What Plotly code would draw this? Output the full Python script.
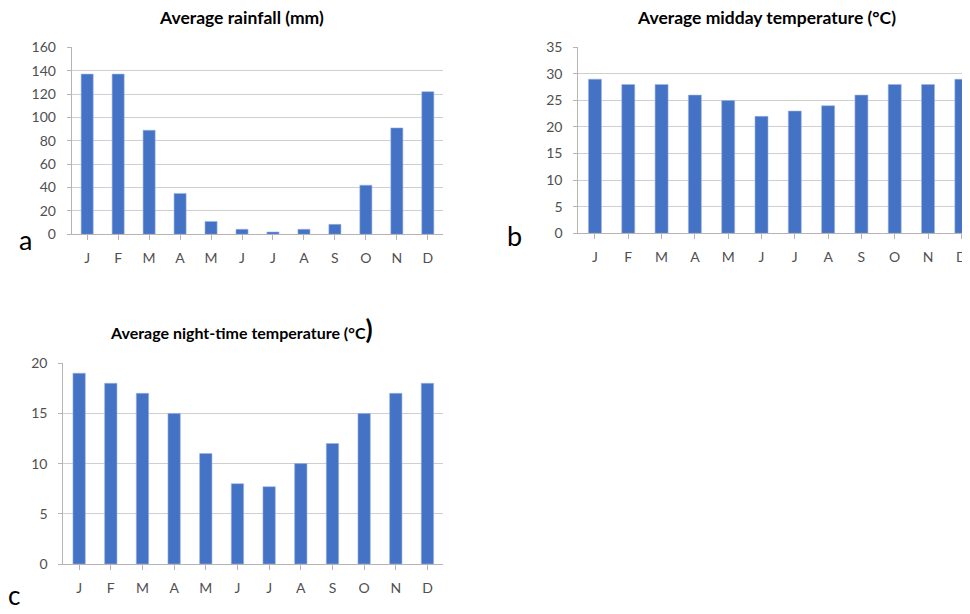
import plotly.graph_objects as go

months = ["J", "F", "M", "A", "M", "J", "J", "A", "S", "O", "N", "D"]
rainfall = [137, 137, 89, 35, 11, 4.3, 2, 4.3, 8.5, 42, 91, 122]
midday = [29, 28, 28, 26, 25, 22, 23, 24, 26, 28, 28, 29]
night = [19, 18, 17, 15, 11, 8, 7.7, 10, 12, 15, 17, 18]

W, H = 970, 614
OFF = 8  # page body margin offset
BAR = "#4472C4"
GRID = "#cfcfcf"
AXIS = "#b4b4b4"
TICKC = "#505050"
FONT = "Lato"

def fx(v):
    return (v - OFF) / W

def fy(v):
    return 1 - (v - OFF) / H

def px_x(a, b):
    return [max(fx(a), 0), min(fx(b), 1.0)]

def px_y(top, bottom):
    return [fy(bottom), fy(top)]

xs = list(range(12))

fig = go.Figure()
for vals, xa, ya in [(rainfall, "x", "y"), (midday, "x2", "y2"), (night, "x3", "y3")]:
    fig.add_trace(go.Bar(
        x=xs, y=vals, xaxis=xa, yaxis=ya, width=0.39,
        marker=dict(color=BAR, line=dict(color="#9db3e0", width=0.6)),
        showlegend=False, hoverinfo="y",
    ))

def xaxis(domain, anchor, rng):
    return dict(
        domain=domain, anchor=anchor, range=rng,
        tickmode="array", tickvals=xs, ticktext=months,
        showline=True, linecolor=AXIS, linewidth=1,
        ticks="outside", tickson="boundaries", ticklen=5, tickcolor=AXIS,
        showgrid=False, zeroline=False,
        tickfont=dict(family=FONT, size=14, color=TICKC),
        ticklabelstandoff=6, fixedrange=True, automargin=False,
    )

def yaxis(domain, anchor, rng, dtick):
    return dict(
        domain=domain, anchor=anchor, range=rng, dtick=dtick,
        showline=True, linecolor=AXIS, linewidth=1,
        ticks="outside", ticklen=4, tickcolor=AXIS,
        showgrid=True, gridcolor=GRID, gridwidth=1, zeroline=False,
        tickfont=dict(family=FONT, size=14, color=TICKC),
        ticklabelstandoff=8, fixedrange=True, automargin=False,
    )

fig.update_layout(
    width=W, height=H, margin=dict(l=0, r=0, t=0, b=0, autoexpand=False),
    paper_bgcolor="white", plot_bgcolor="white",
    bargap=0.6,
    xaxis=xaxis(px_x(71.7, 443.3), "y", [-0.5, 11.5]),
    yaxis=yaxis(px_y(47, 234.3), "x", [0, 160.2], 20),
    xaxis2=xaxis(px_x(578.3, 978.3), "y2", [-0.5, 11.5]),
    yaxis2=yaxis(px_y(47, 233.3), "x2", [0, 35.05], 5),
    xaxis3=xaxis(px_x(63.3, 443.3), "y3", [-0.5, 11.5]),
    yaxis3=yaxis(px_y(363, 564), "x3", [0, 20.02], 5),
)

titles = [
    ("Average rainfall (mm)", 241.5, 17, 17.5),
    ("Average midday temperature (°C)", 766, 17, 17.5),
    ("Average night-time temperature (°C<span style='font-size:26px'>)</span>", 241.5, 329, 16),
]
for t, cx, cy, fs in titles:
    fig.add_annotation(text=f"<b>{t}</b>", xref="paper", yref="paper",
                       x=fx(cx), y=fy(cy), showarrow=False,
                       xanchor="center", yanchor="middle",
                       font=dict(family=FONT, size=fs, color="#000000"))

for lab, lx, ly in [("a", 25, 240), ("b", 514, 236)]:
    fig.add_annotation(text=lab, xref="paper", yref="paper",
                       x=fx(lx), y=fy(ly), showarrow=False,
                       xanchor="center", yanchor="middle",
                       font=dict(family=FONT, size=27, color="#000000"))
fig.add_annotation(text="c", xref="paper", yref="paper",
                   x=fx(14), y=fy(613), showarrow=False,
                   xanchor="center", yanchor="bottom",
                   font=dict(family=FONT, size=26, color="#000000"))

fig.write_html("out.html")
